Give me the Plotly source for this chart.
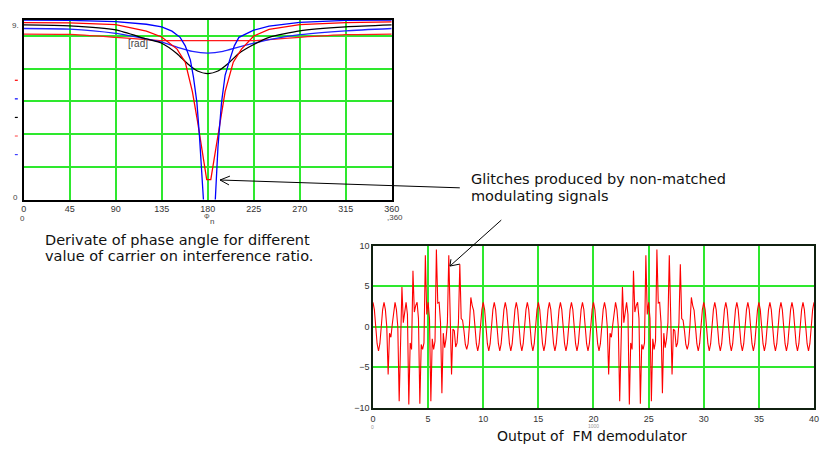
import plotly.graph_objects as go

W, H = 823, 449

# ---------------- top chart data (phase-angle derivative) ----------------
phi_ticks = [0, 45, 90, 135, 180, 225, 270, 315, 360]

phi_blue1 = [0, 45, 90, 120, 135, 145, 153, 158, 163, 166, 169.4, 172, 175.8, 178, 182, 185,
             187.7, 190, 193.5, 197, 201.5, 206, 210.5, 225, 240, 270, 315, 360]
blue1 = [5.49, 5.48, 5.44, 5.36, 5.28, 5.15, 4.96, 4.7, 4.27, 3.75, 2.97, 1.9, 0.0, -1.5, -2.5, -1.5,
         0.0, 1.6, 2.97, 3.8, 4.27, 4.7, 4.96, 5.18, 5.3, 5.42, 5.48, 5.49]

phi_red1 = [0, 45, 90, 120, 135, 150, 158, 165, 170, 174, 179, 183, 188, 192, 197, 205, 213,
            225, 240, 270, 315, 360]
red1 = [5.41, 5.40, 5.35, 5.15, 4.97, 4.6, 4.2, 3.3, 2.4, 1.6, 0.61, 0.61, 1.6, 2.4, 3.3, 4.2, 4.6,
        5.0, 5.2, 5.35, 5.41, 5.43]

phi_black = [0, 45, 90, 120, 135, 150, 160, 170, 180, 190, 200, 210, 225, 240, 270, 315, 360]
black = [5.34, 5.31, 5.19, 4.91, 4.78, 4.46, 4.16, 3.93, 3.85, 3.93, 4.16, 4.46, 4.74, 4.96, 5.16,
         5.28, 5.34]

phi_blue2 = [0, 45, 90, 120, 135, 150, 165, 180, 195, 210, 225, 240, 270, 315, 360]
blue2 = [5.23, 5.21, 5.08, 4.91, 4.81, 4.66, 4.53, 4.48, 4.53, 4.66, 4.78, 4.89, 5.04, 5.16, 5.23]

phi_red2 = [0, 45, 90, 120, 135, 180, 225, 240, 270, 315, 360]
red2 = [5.06, 5.05, 4.96, 4.89, 4.86, 4.86, 4.86, 4.89, 4.96, 5.04, 5.06]

# ---------------- bottom chart data (FM demodulator output) ----------------
demod_step = 0.125          # sample spacing (x units)
demod_ticks = [0, 5, 10, 15, 20, 25, 30, 35, 40]
clean = [3.0, 2.1, 0.0, -2.1, -3.0, -2.1, 0.0, 2.1]
g1 = [3.0, 2.1, 0.0, -5.9, -0.8, -1.3, 0.3, 2.1]
g2 = [3.0, 2.1, 0.0, -9.2, -2.8, 4.9, 0.5, 2.1]
g3 = [3.0, 1.5, -9.6, -2.0, -2.8, 6.9, 1.8, 2.6]
g4 = [3.0, 1.0, -9.5, -2.2, -2.8, -2.0, 8.8, 1.5]
g5 = [3.0, 1.0, -9.2, -1.5, -2.8, -1.8, 9.5, 2.9]
g6 = [3.0, 0.5, -8.2, -0.8, -2.6, -1.5, 0.5, 8.8]
g7 = [3.0, -5.9, -0.3, -0.5, -2.5, -2.0, 0.5, 7.7]
g8 = [1.0, 0.8, -0.5, -2.2, -2.8, -2.1, 0.2, 3.6]
g9 = [2.6, 2.0, 0.0, -2.1, -3.0, -2.1, 0.0, 2.1]
demod_rows = [clean, g1, g2, g3, g4, g5, g6, g7, g8, g9,
              clean, clean, clean, clean, clean, clean, clean, clean, clean, clean, clean,
              g1, g2, g3, g4, g5, g6, g7, g8, g9,
              clean, clean, clean, clean, clean, clean, clean, clean, clean, clean]
demod_last = [3.0]

demod_y = [v for row in demod_rows for v in row] + demod_last
demod_x = [i * demod_step for i in range(len(demod_y))]


def px(x):
    return x / W


def py(y):
    return 1 - y / H


GREEN = "#2ee82e"
fig = go.Figure()

line_w = 1.3
fig.add_trace(go.Scatter(x=phi_red2, y=red2, mode="lines", line=dict(color="#ff1a1a", width=line_w, shape="spline", smoothing=0.6), xaxis="x", yaxis="y"))
fig.add_trace(go.Scatter(x=phi_blue2, y=blue2, mode="lines", line=dict(color="#2222ff", width=line_w, shape="spline", smoothing=0.6), xaxis="x", yaxis="y"))
fig.add_trace(go.Scatter(x=phi_black, y=black, mode="lines", line=dict(color="#000000", width=line_w, shape="spline", smoothing=0.6), xaxis="x", yaxis="y"))
fig.add_trace(go.Scatter(x=phi_red1, y=red1, mode="lines", line=dict(color="#ff0000", width=line_w), xaxis="x", yaxis="y"))
fig.add_trace(go.Scatter(x=phi_blue1, y=blue1, mode="lines", line=dict(color="#0000ff", width=line_w), xaxis="x", yaxis="y"))

fig.add_trace(go.Scatter(x=demod_x, y=demod_y, mode="lines", line=dict(color="#ff0000", width=1.1), xaxis="x2", yaxis="y2"))

tickfont = dict(family="Liberation Sans, Arial, sans-serif", size=9, color="#333333")

fig.update_layout(
    width=W, height=H, margin=dict(l=0, r=0, t=0, b=0),
    paper_bgcolor="white", plot_bgcolor="white", showlegend=False,
    xaxis=dict(domain=[px(21), px(394)], range=[0, 360], tickvals=phi_ticks,
               showgrid=True, gridcolor=GREEN, gridwidth=1.5, zeroline=False,
               showline=True, linecolor="black", linewidth=1.5, mirror=True,
               ticks="", tickfont=tickfont, anchor="y"),
    yaxis=dict(domain=[py(199), py(15)], range=[0, 5.5], dtick=1,
               showgrid=True, gridcolor=GREEN, gridwidth=1.5, zeroline=False,
               showline=True, linecolor="black", linewidth=1.5, mirror=True,
               showticklabels=False, ticks="", anchor="x"),
    xaxis2=dict(domain=[px(375), px(822)], range=[0, 40], tickvals=demod_ticks,
                showgrid=True, gridcolor=GREEN, gridwidth=1.5, zeroline=False,
                showline=True, linecolor="#102010", linewidth=1.5, mirror=True,
                ticks="", tickfont=tickfont, ticklabelstandoff=2, anchor="y2"),
    yaxis2=dict(domain=[py(412), py(246)], range=[-10, 10], dtick=5,
                showgrid=True, gridcolor=GREEN, gridwidth=1.5, zeroline=False,
                showline=True, linecolor="#102010", linewidth=1.5, mirror=True,
                ticks="", tickfont=tickfont, anchor="x2"),
)

txt_font = dict(family="DejaVu Sans, sans-serif", size=14.5, color="#111111")
small_font = dict(family="Liberation Sans, Arial, sans-serif", size=8, color="#444444")
tiny_font = dict(family="Liberation Sans, Arial, sans-serif", size=5, color="#999999")

ann = [
    dict(x=px(137), y=py(39), text="[rad]", font=dict(family="Liberation Sans, Arial, sans-serif", size=10, color="#444444")),
    dict(x=px(13), y=py(21), text="9.", font=small_font),
    dict(x=px(13), y=py(197), text="0", font=small_font),
    dict(x=px(20), y=py(218), text="0", font=small_font),
    dict(x=px(207), y=py(216), text="Φ", font=dict(family="Liberation Sans, Arial, sans-serif", size=7, color="#444444")),
    dict(x=px(212), y=py(221), text="n", font=small_font),
    dict(x=px(397), y=py(217), text=",360", font=small_font),
    dict(x=px(375), y=py(432), text="0", font=tiny_font),
    dict(x=px(599), y=py(430.5), text="1000", font=tiny_font),
    dict(x=px(473), y=py(178), text="Glitches produced by non-matched", xanchor="left", font=txt_font),
    dict(x=px(473), y=py(195), text="modulating signals", xanchor="left", font=txt_font),
    dict(x=px(42), y=py(240), text="Derivate of phase angle for different", xanchor="left", font=txt_font),
    dict(x=px(42), y=py(257), text="value of carrier on interference ratio.", xanchor="left", font=txt_font),
    dict(x=px(597), y=py(441), text="Output of  FM demodulator", font=dict(family="DejaVu Sans, sans-serif", size=14, color="#111111")),
]
for a in ann:
    a.update(xref="paper", yref="paper", showarrow=False, borderpad=0)
    a.setdefault("xanchor", "center")
    a.setdefault("yanchor", "middle")
fig.update_layout(annotations=ann)


def seg(x0, y0, x1, y1, color="black", width=1.0):
    return dict(type="line", xref="paper", yref="paper", x0=px(x0), y0=py(y0), x1=px(x1), y1=py(y1),
                line=dict(color=color, width=width))


shapes = [
    # arrow to top chart
    seg(463, 187, 220, 179), seg(220, 179, 230, 175), seg(220, 179, 229, 184),
    # arrow to bottom chart
    seg(505, 220, 453, 267), seg(453, 267, 454, 260), seg(453, 267, 463, 265),
    # trace markers on the left of the top chart
    seg(12, 77, 15, 77, "#ff0000", 1.2), seg(12, 96, 15, 96, "#0000ff", 1.2),
    seg(12, 115, 15, 115, "#000000", 1.2), seg(12, 134, 15, 134, "#ff6060", 1.2),
    seg(12, 153, 15, 153, "#4040ff", 1.2),
]
fig.update_layout(shapes=shapes)

fig.write_html("out.html", config={"displayModeBar": False},
               post_script="document.body.style.margin='0px';document.body.style.overflow='hidden';")
